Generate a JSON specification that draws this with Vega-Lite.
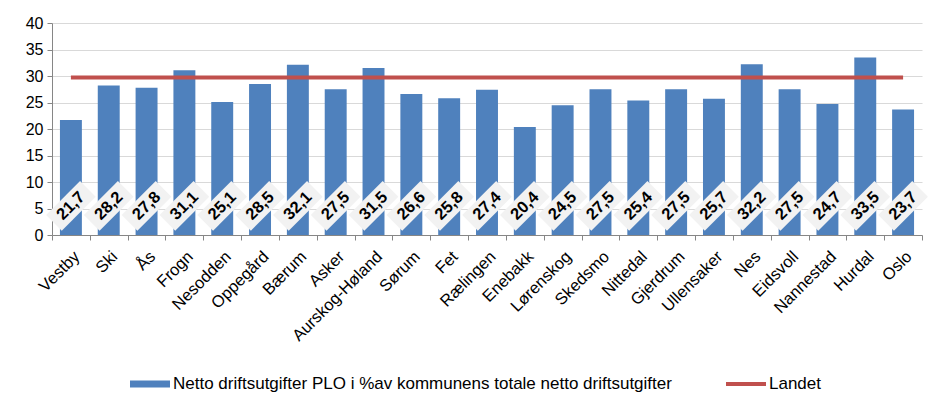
{
  "$schema": "https://vega.github.io/schema/vega-lite/v6.json",
  "width": 870,
  "height": 212,
  "autosize": {"type": "none"},
  "padding": {"left": 52, "top": 23, "right": 25, "bottom": 180},
  "background": "white",
  "config": {
    "locale": {"number": {"decimal": ",", "thousands": " ", "grouping": [3], "currency": ["", " kr"]}},
    "view": {"stroke": null},
    "font": "Liberation Sans",
    "axisY": {"tickCount": 10, "labelOverlap": false}
  },
  "data": {
    "values": [
      {"kommune": "Vestby", "verdi": 21.7, "landet": 29.7},
      {"kommune": "Ski", "verdi": 28.2, "landet": 29.7},
      {"kommune": "Ås", "verdi": 27.8, "landet": 29.7},
      {"kommune": "Frogn", "verdi": 31.1, "landet": 29.7},
      {"kommune": "Nesodden", "verdi": 25.1, "landet": 29.7},
      {"kommune": "Oppegård", "verdi": 28.5, "landet": 29.7},
      {"kommune": "Bærum", "verdi": 32.1, "landet": 29.7},
      {"kommune": "Asker", "verdi": 27.5, "landet": 29.7},
      {"kommune": "Aurskog-Høland", "verdi": 31.5, "landet": 29.7},
      {"kommune": "Sørum", "verdi": 26.6, "landet": 29.7},
      {"kommune": "Fet", "verdi": 25.8, "landet": 29.7},
      {"kommune": "Rælingen", "verdi": 27.4, "landet": 29.7},
      {"kommune": "Enebakk", "verdi": 20.4, "landet": 29.7},
      {"kommune": "Lørenskog", "verdi": 24.5, "landet": 29.7},
      {"kommune": "Skedsmo", "verdi": 27.5, "landet": 29.7},
      {"kommune": "Nittedal", "verdi": 25.4, "landet": 29.7},
      {"kommune": "Gjerdrum", "verdi": 27.5, "landet": 29.7},
      {"kommune": "Ullensaker", "verdi": 25.7, "landet": 29.7},
      {"kommune": "Nes", "verdi": 32.2, "landet": 29.7},
      {"kommune": "Eidsvoll", "verdi": 27.5, "landet": 29.7},
      {"kommune": "Nannestad", "verdi": 24.7, "landet": 29.7},
      {"kommune": "Hurdal", "verdi": 33.5, "landet": 29.7},
      {"kommune": "Oslo", "verdi": 23.7, "landet": 29.7}
    ]
  },
  "encoding": {
    "x": {
      "field": "kommune",
      "type": "nominal",
      "sort": null,
      "scale": {"paddingInner": 0, "paddingOuter": 0},
      "axis": {
        "title": null,
        "labelAngle": -45,
        "labelAlign": "right",
        "labelBaseline": "top",
        "labelFontSize": 16.5,
        "labelColor": "#000000",
        "labelPadding": 8,
        "tickBand": "extent",
        "tickSize": 5,
        "tickColor": "#868686",
        "domainColor": "#868686",
        "grid": false,
        "labelLimit": 300
      }
    }
  },
  "layer": [
    {
      "mark": {"type": "bar", "width": {"band": 0.58}},
      "encoding": {
        "y": {
          "field": "verdi",
          "type": "quantitative",
          "scale": {"domain": [0, 40]},
          "axis": {
            "title": null,
            "values": [0, 5, 10, 15, 20, 25, 30, 35, 40],
            "tickCount": 10,
            "labelOverlap": false,
            "labelFontSize": 16,
            "labelColor": "#000000",
            "labelPadding": 4,
            "tickSize": 5,
            "tickColor": "#868686",
            "domainColor": "#868686",
            "gridColor": "#D9D9D9",
            "gridWidth": 1
          }
        },
        "color": {
          "datum": "Netto driftsutgifter PLO i %av kommunens totale netto driftsutgifter",
          "type": "nominal",
          "scale": {
            "domain": ["Netto driftsutgifter PLO i %av kommunens totale netto driftsutgifter", "Landet"],
            "range": ["#4F81BD", "#C0504D"]
          },
          "legend": {
            "title": null,
            "orient": "none",
            "legendX": 78,
            "legendY": 341,
            "direction": "horizontal",
            "labelFont": "Liberation Sans",
            "labelFontSize": 17,
            "labelColor": "#000000",
            "labelLimit": 700,
            "labelOffset": 3,
            "columnPadding": 54,
            "symbolSize": 1600,
            "symbolType": "M-1,-0.18 L1,-0.18 L1,0.18 L-1,0.18 Z",
            "symbolStrokeWidth": 0,
            "encode": {
              "symbols": {
                "update": {
                  "shape": {"signal": "datum.label === 'Landet' ? 'M-1,-0.1 L1,-0.1 L1,0.1 L-1,0.1 Z' : 'M-1,-0.18 L1,-0.18 L1,0.18 L-1,0.18 Z'"}
                }
              }
            }
          }
        }
      }
    },
    {
      "mark": {"type": "line", "strokeWidth": 4},
      "encoding": {
        "y": {"field": "landet", "type": "quantitative"},
        "color": {"datum": "Landet", "type": "nominal"}
      }
    },
    {
      "mark": {
        "type": "point",
        "shape": "M-1,-0.46 L1,-0.46 L1,0.46 L-1,0.46 Z",
        "angle": 315,
        "size": 2304,
        "filled": true,
        "fill": "#F2F2F2",
        "opacity": 1,
        "strokeWidth": 0
      },
      "encoding": {"y": {"datum": 5.5, "type": "quantitative"}}
    },
    {
      "mark": {"type": "text", "angle": 315, "fontSize": 16.5, "fontWeight": "bold", "color": "#000000", "align": "center", "baseline": "middle"},
      "encoding": {
        "y": {"datum": 5.5, "type": "quantitative"},
        "text": {"field": "verdi", "type": "quantitative", "format": ".1f"}
      }
    }
  ]
}
